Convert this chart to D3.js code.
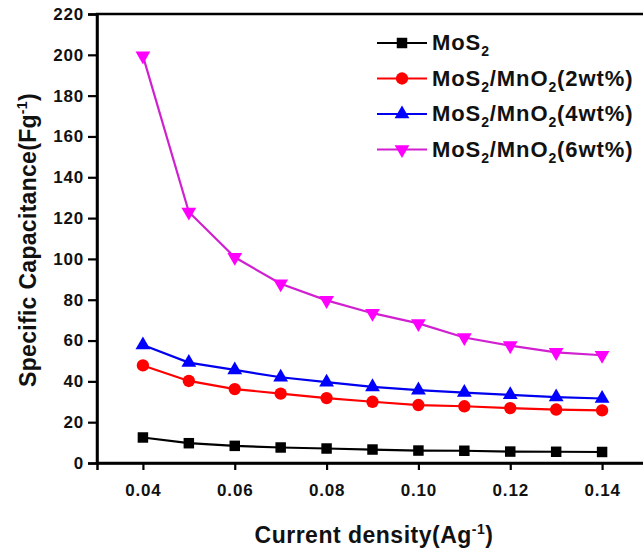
<!DOCTYPE html>
<html>
<head>
<meta charset="utf-8">
<script src="https://cdn.jsdelivr.net/npm/d3@7"></script>
<style>
  html, body { margin: 0; padding: 0; background: #fff; }
  svg { display: block; font-family: "Liberation Sans", Arial, sans-serif; font-weight: bold; }
</style>
</head>
<body>
<svg id="chart" width="643" height="548"></svg>
<script>
// Current density (A/g) on the x axis
const currentDensity = [0.04, 0.05, 0.06, 0.07, 0.08, 0.09, 0.10, 0.11, 0.12, 0.13, 0.14];

// Specific capacitance (F/g) for each sample
const capMoS2     = [12.5, 9.7, 8.4, 7.6, 7.1, 6.6, 6.1, 6.0, 5.6, 5.5, 5.4];
const capMnO2_2wt = [47.8, 40.2, 36.2, 34.0, 31.8, 30.0, 28.4, 27.8, 26.9, 26.2, 25.8];
const capMnO2_4wt = [57.8, 49.2, 45.6, 42.0, 39.6, 37.3, 35.7, 34.5, 33.4, 32.3, 31.6];
const capMnO2_6wt = [199.5, 123, 100.8, 87.8, 79.7, 73.4, 68.4, 61.5, 57.5, 54.2, 52.8];

const xTicks = [0.04, 0.06, 0.08, 0.10, 0.12, 0.14];
const yTicks = [0, 20, 40, 60, 80, 100, 120, 140, 160, 180, 200, 220];

const seriesNames = ["MoS2", "MoS2/MnO2(2wt%)", "MoS2/MnO2(4wt%)", "MoS2/MnO2(6wt%)"];

const series = [
  { name: seriesNames[0], values: capMoS2,     line: "#000000", fill: "#000000", symbol: d3.symbolSquare,   size: 110, rot: 0 },
  { name: seriesNames[1], values: capMnO2_2wt, line: "#ff0000", fill: "#ff0000", symbol: d3.symbolCircle,   size: 120, rot: 0 },
  { name: seriesNames[2], values: capMnO2_4wt, line: "#0000ee", fill: "#0000ff", symbol: d3.symbolTriangle, size: 95,  rot: 0 },
  { name: seriesNames[3], values: capMnO2_6wt, line: "#d020d0", fill: "#ff00ff", symbol: d3.symbolTriangle, size: 95,  rot: 180 }
];

const svg = d3.select("#chart");
const plotL = 97, plotR = 648, plotT = 14, plotB = 463;

const x = d3.scaleLinear().domain([0.03, 0.15]).range([plotL, plotR]);
const y = d3.scaleLinear().domain([0, 220]).range([plotB, plotT]);

// frame (right edge runs off the canvas)
svg.append("rect")
  .attr("x", plotL).attr("y", plotT)
  .attr("width", plotR - plotL).attr("height", plotB - plotT)
  .attr("fill", "none").attr("stroke", "#000").attr("stroke-width", 2.5);

// axes
const xAxis = d3.axisBottom(x).tickValues(xTicks).tickFormat(d3.format(".2f"))
  .tickSize(7).tickPadding(14);
const yAxis = d3.axisLeft(y).tickValues(yTicks).tickFormat(d3.format("d"))
  .tickSize(9).tickPadding(4);

const gx = svg.append("g").attr("transform", `translate(0,${plotB})`).call(xAxis);
const gy = svg.append("g").attr("transform", `translate(${plotL},0)`).call(yAxis);

[gx, gy].forEach(g => {
  g.select(".domain").attr("stroke-width", 2.5);
  g.selectAll(".tick line").attr("stroke-width", 2.2);
  g.selectAll(".tick text")
    .attr("font-family", "'Liberation Sans', Arial, sans-serif")
    .attr("font-weight", "bold")
    .attr("font-size", 17)
    .attr("letter-spacing", "0.8px")
    .attr("fill", "#111");
});

// lines and markers
const line = d3.line()
  .x((d, i) => x(currentDensity[i]))
  .y(d => y(d));

series.forEach(s => {
  svg.append("path")
    .datum(s.values)
    .attr("fill", "none")
    .attr("stroke", s.line)
    .attr("stroke-width", 2.2)
    .attr("d", line);

  svg.append("g").selectAll("path")
    .data(s.values)
    .join("path")
    .attr("d", d3.symbol().type(s.symbol).size(s.size))
    .attr("transform", (d, i) => `translate(${x(currentDensity[i])},${y(d)}) rotate(${s.rot})`)
    .attr("fill", s.fill);
});

// legend
const legendX = 377, legendY0 = 43, legendDY = 35.5;
const legend = svg.append("g");

function writeChem(textSel, label) {
  // a "2" right after an element symbol is drawn as a subscript
  const parts = label.split(/(?<=[A-Za-z])(2)(?=\/|\(|$)/);
  parts.forEach((p, i) => {
    if (p === "") return;
    if (i % 2 === 1) {
      textSel.append("tspan").attr("font-size", 14).attr("dy", 6).text(p);
    } else {
      const t = textSel.append("tspan").text(p);
      if (i > 0) t.attr("dy", -6);
    }
  });
}

series.forEach((s, k) => {
  const cy = legendY0 + k * legendDY;
  legend.append("line")
    .attr("x1", legendX).attr("x2", legendX + 50)
    .attr("y1", cy).attr("y2", cy)
    .attr("stroke", s.line).attr("stroke-width", 2.2);
  legend.append("path")
    .attr("d", d3.symbol().type(s.symbol).size(s.size))
    .attr("transform", `translate(${legendX + 25},${cy}) rotate(${s.rot})`)
    .attr("fill", s.fill);
  const t = legend.append("text")
    .attr("x", legendX + 55).attr("y", cy + 7)
    .attr("font-size", 22)
    .attr("letter-spacing", "0.9px")
    .attr("fill", "#111");
  writeChem(t, s.name);
});

// axis titles
const xt = svg.append("text")
  .attr("x", 374).attr("y", 543)
  .attr("text-anchor", "middle")
  .attr("font-size", 23)
  .attr("letter-spacing", "0.5px")
  .attr("fill", "#111");
xt.append("tspan").text("Current density(Ag");
xt.append("tspan").attr("font-size", 14).attr("dy", -9).text("-1");
xt.append("tspan").attr("dy", 9).text(")");

const yt = svg.append("text")
  .attr("transform", "translate(36,240) rotate(-90)")
  .attr("text-anchor", "middle")
  .attr("font-size", 23)
  .attr("letter-spacing", "0.3px")
  .attr("fill", "#111");
yt.append("tspan").text("Specific Capacitance(Fg");
yt.append("tspan").attr("font-size", 14).attr("dy", -9).text("-1");
yt.append("tspan").attr("dy", 9).text(")");
</script>
</body>
</html>
